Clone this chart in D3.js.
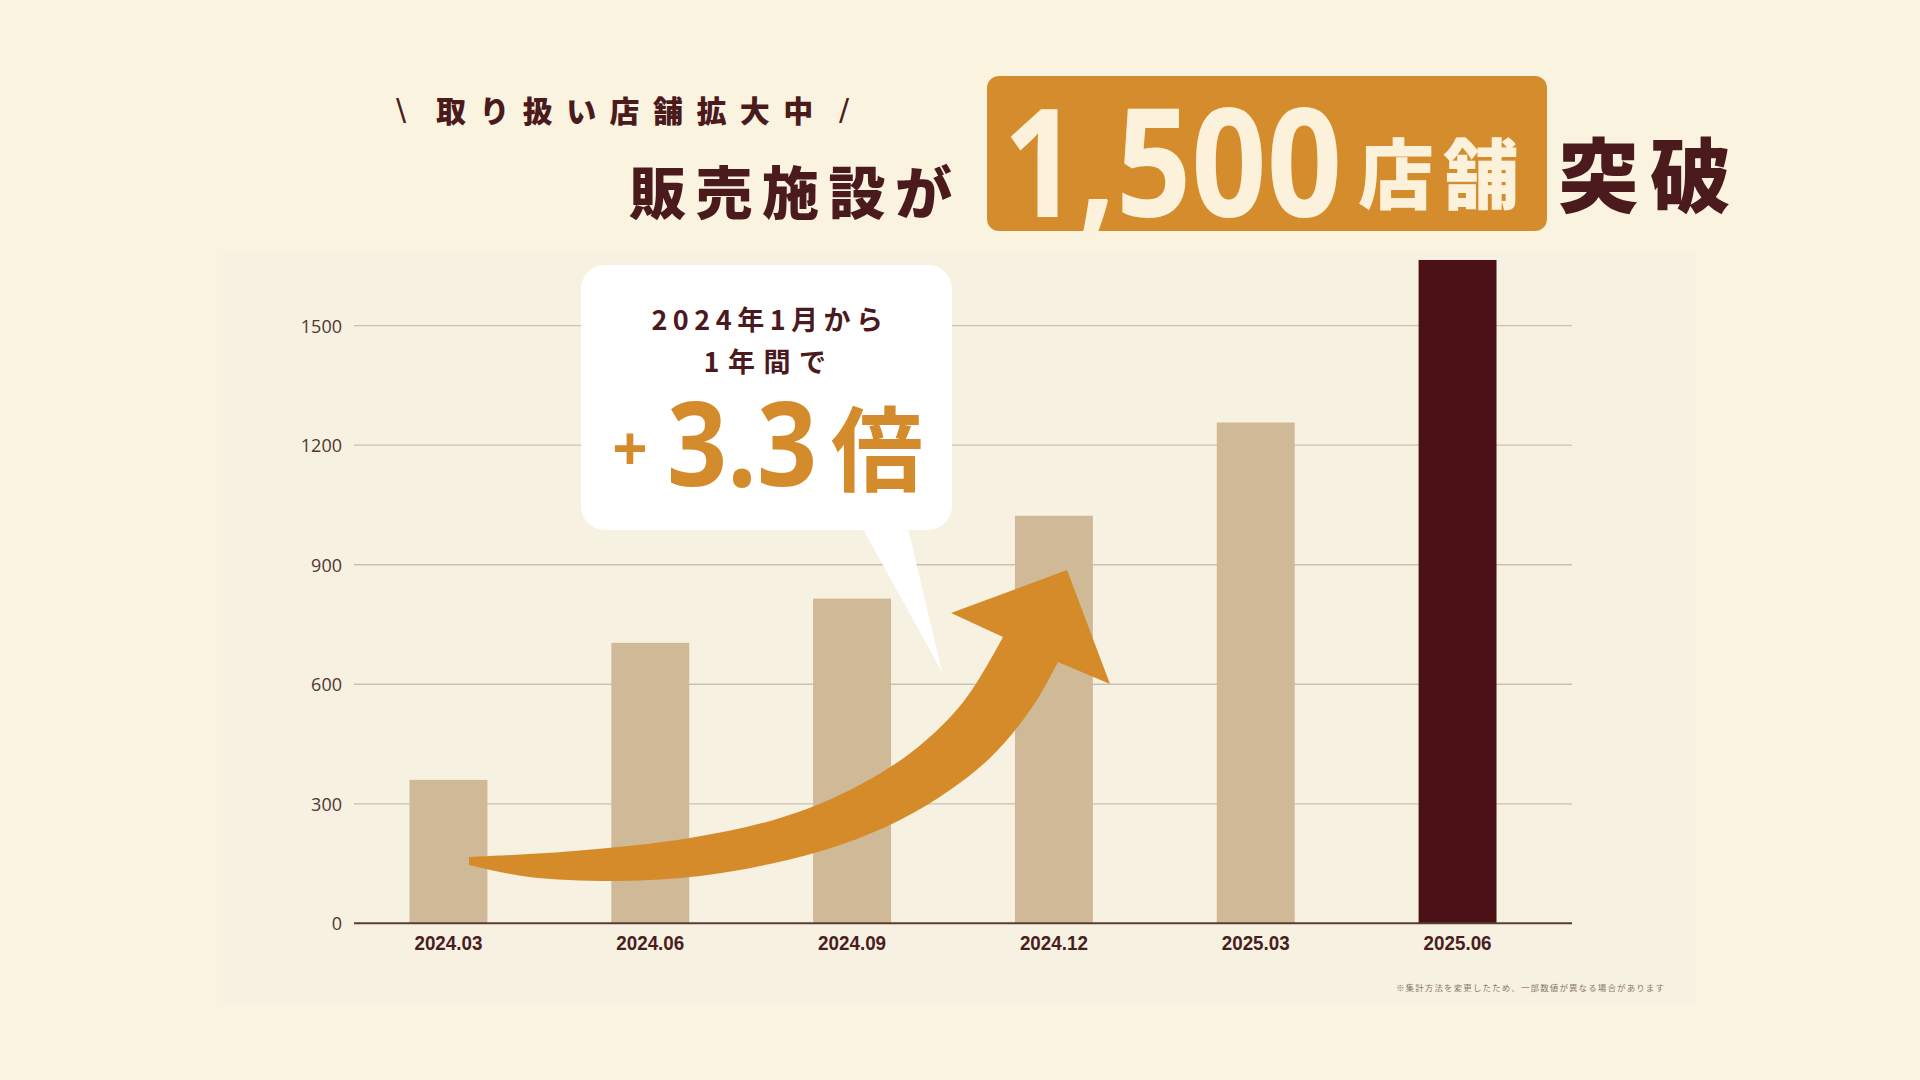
<!DOCTYPE html>
<html><head><meta charset="utf-8">
<script src="https://cdn.jsdelivr.net/npm/d3@7"></script>
<style>
html,body{margin:0;padding:0;background:#faf3e0;}
svg{display:block;}
</style></head>
<body>
<svg id="chart" width="1920" height="1080"></svg>
<script>
// ---- data ----
const categories = ["2024.03","2024.06","2024.09","2024.12","2025.03","2025.06"];
const storeCounts = [360, 704, 815, 1023, 1257, 1665];
const yTicks = [0, 300, 600, 900, 1200, 1500];
const highlightCategory = "2025.06";
const footnote = "※集計方法を変更したため、一部数値が異なる場合があります";

// ---- decoration shapes (not data) ----
const arrowUpper = [[469,857],[574,851],[690,838],[780,818],[850,790],[913,751],[964,701],[1003,637]];
const arrowHead  = [[951,613],[1067,570],[1110,684],[1058,662]];
const arrowLower = [[1040,695],[1020,724],[990,758],[950,790],[900,820],[840,845],[770,864],[700,876],[619,881],[529,877],[469,865]];

const svg = d3.select("#chart");
const JP = "'Noto Sans CJK JP','Noto Sans',sans-serif";
const DARK = "#4a1a1c", ORANGE = "#d48b2b", CREAM = "#fcf2dc";

// background
svg.append("rect").attr("width",1920).attr("height",1080).attr("fill","#faf3e0");
svg.append("rect").attr("x",223).attr("y",251).attr("width",1473).attr("height",753).attr("fill","#f7f1e2");

// scales
const x = d3.scaleBand().domain(categories).range([355,1551]).paddingInner(0.614).paddingOuter(0.27);
const y = d3.scaleLinear().domain([0,1500]).range([923.3,325.7]);
const gridX0 = 354, gridX1 = 1572;

// gridlines
svg.append("g").selectAll("line").data(yTicks.filter(d=>d>0)).join("line")
  .attr("x1",gridX0).attr("x2",gridX1)
  .attr("y1",d=>y(d)).attr("y2",d=>y(d))
  .attr("stroke","#cbc1b0").attr("stroke-width",1.3);

// y labels
const yAxis = d3.axisLeft(y).tickValues(yTicks).tickSize(0).tickPadding(0).tickFormat(d3.format("d"));
const gy = svg.append("g").attr("transform","translate(342,0)").call(yAxis);
gy.select(".domain").remove();
gy.selectAll("text").attr("font-family","'Open Sans',sans-serif").attr("font-size",18)
  .attr("fill","#4f3733").attr("dy","0.35em");

// bars
svg.append("g").selectAll("rect").data(categories).join("rect")
  .attr("x",d=>x(d)).attr("width",x.bandwidth())
  .attr("y",(d,i)=>y(storeCounts[i]))
  .attr("height",(d,i)=>y(0)-y(storeCounts[i]))
  .attr("fill",d=>d===highlightCategory?"#4b1117":"#cfb996");

// x axis
const xAxis = d3.axisBottom(x).tickSize(0).tickPadding(0);
const gx = svg.append("g").attr("transform",`translate(0,${y(0)})`).call(xAxis);
gx.select(".domain").remove();
gx.selectAll("text").attr("font-family","'Liberation Sans Narrow','Liberation Sans',sans-serif")
  .attr("font-weight",700).attr("font-size",20).attr("fill","#4a1d1e").attr("dy","0").attr("y",27)
  .attr("textLength",68).attr("lengthAdjust","spacingAndGlyphs");
svg.append("line").attr("x1",gridX0).attr("x2",gridX1).attr("y1",y(0)).attr("y2",y(0))
  .attr("stroke","#5b3b33").attr("stroke-width",2);

// arrow
const curve = d3.line().curve(d3.curveCatmullRom.alpha(0.5));
const up = curve(arrowUpper);
const lo = curve([arrowHead[arrowHead.length-1]].concat(arrowLower)).replace(/^M[^C]*/,"");
const head = arrowHead.map(p=>"L"+p[0]+","+p[1]).join("");
svg.append("path").attr("d", up + head + lo + "Z").attr("fill","#d58b29");

// speech bubble
const bub = svg.append("g");
bub.append("path").attr("d","M858,520L906,520L942,672Z").attr("fill","#ffffff");
bub.append("rect").attr("x",581).attr("y",265).attr("width",371).attr("height",265).attr("rx",24).attr("fill","#ffffff");
bub.append("text").attr("x",767+3).attr("y",318).attr("text-anchor","middle").attr("dominant-baseline","central")
  .attr("font-family",JP).attr("font-weight",700).attr("font-size",27).attr("letter-spacing",5.5)
  .attr("fill","#4a1a20").text("2024年1月から");
bub.append("text").attr("x",765+4).attr("y",360).attr("text-anchor","middle").attr("dominant-baseline","central")
  .attr("font-family",JP).attr("font-weight",700).attr("font-size",27).attr("letter-spacing",8.5)
  .attr("fill","#4a1a20").text("1年間で");
bub.append("text").attr("x",630).attr("y",447).attr("text-anchor","middle").attr("dominant-baseline","central")
  .attr("font-family","'Open Sans',sans-serif").attr("font-weight",700).attr("font-size",62)
  .attr("fill",ORANGE).text("+");
bub.append("text").attr("x",667).attr("y",486)
  .attr("font-family","'Open Sans',sans-serif").attr("font-weight",700).attr("font-size",116)
  .attr("textLength",150).attr("lengthAdjust","spacingAndGlyphs")
  .attr("fill",ORANGE).text("3.3");
bub.append("text").attr("x",877).attr("y",443).attr("text-anchor","middle").attr("dominant-baseline","central")
  .attr("font-family",JP).attr("font-weight",700).attr("font-size",92)
  .attr("fill",ORANGE).text("倍");

// title
const t = svg.append("g");
t.append("text").attr("x",401).attr("y",109).attr("text-anchor","middle").attr("dominant-baseline","central")
  .attr("font-family","'DejaVu Sans',sans-serif").attr("font-size",30).attr("fill",DARK).text("\\");
t.append("text").attr("x",844).attr("y",109).attr("text-anchor","middle").attr("dominant-baseline","central")
  .attr("font-family","'DejaVu Sans',sans-serif").attr("font-size",30).attr("fill",DARK).text("/");
t.append("text").attr("x",436).attr("y",109).attr("dominant-baseline","central")
  .attr("font-family",JP).attr("font-weight",900).attr("font-size",30).attr("letter-spacing",13.4)
  .attr("fill",DARK).text("取り扱い店舗拡大中");
t.append("text").attr("x",629).attr("y",189).attr("dominant-baseline","central")
  .attr("font-family",JP).attr("font-weight",900).attr("font-size",57).attr("letter-spacing",9.5)
  .attr("fill",DARK).text("販売施設が");
t.append("rect").attr("x",987).attr("y",76).attr("width",560).attr("height",155).attr("rx",12).attr("fill","#d48c2c");
t.append("text").attr("x",1003).attr("y",217)
  .attr("font-family","'Open Sans',sans-serif").attr("font-weight",700).attr("font-size",150)
  .attr("textLength",339).attr("lengthAdjust","spacingAndGlyphs")
  .attr("fill",CREAM).text("1,500");
t.append("text").attr("x",1358).attr("y",170).attr("dominant-baseline","central")
  .attr("font-family",JP).attr("font-weight",900).attr("font-size",76).attr("letter-spacing",9)
  .attr("fill",CREAM).text("店舗");
t.append("text").attr("x",1558).attr("y",170).attr("dominant-baseline","central")
  .attr("font-family",JP).attr("font-weight",900).attr("font-size",81).attr("letter-spacing",11)
  .attr("fill",DARK).text("突破");

// footnote
svg.append("text").attr("x",1396).attr("y",987).attr("dominant-baseline","central")
  .attr("font-family",JP).attr("font-size",8.5).attr("textLength",268).attr("lengthAdjust","spacing")
  .attr("fill","#8a7868").text(footnote);
</script>
</body></html>
